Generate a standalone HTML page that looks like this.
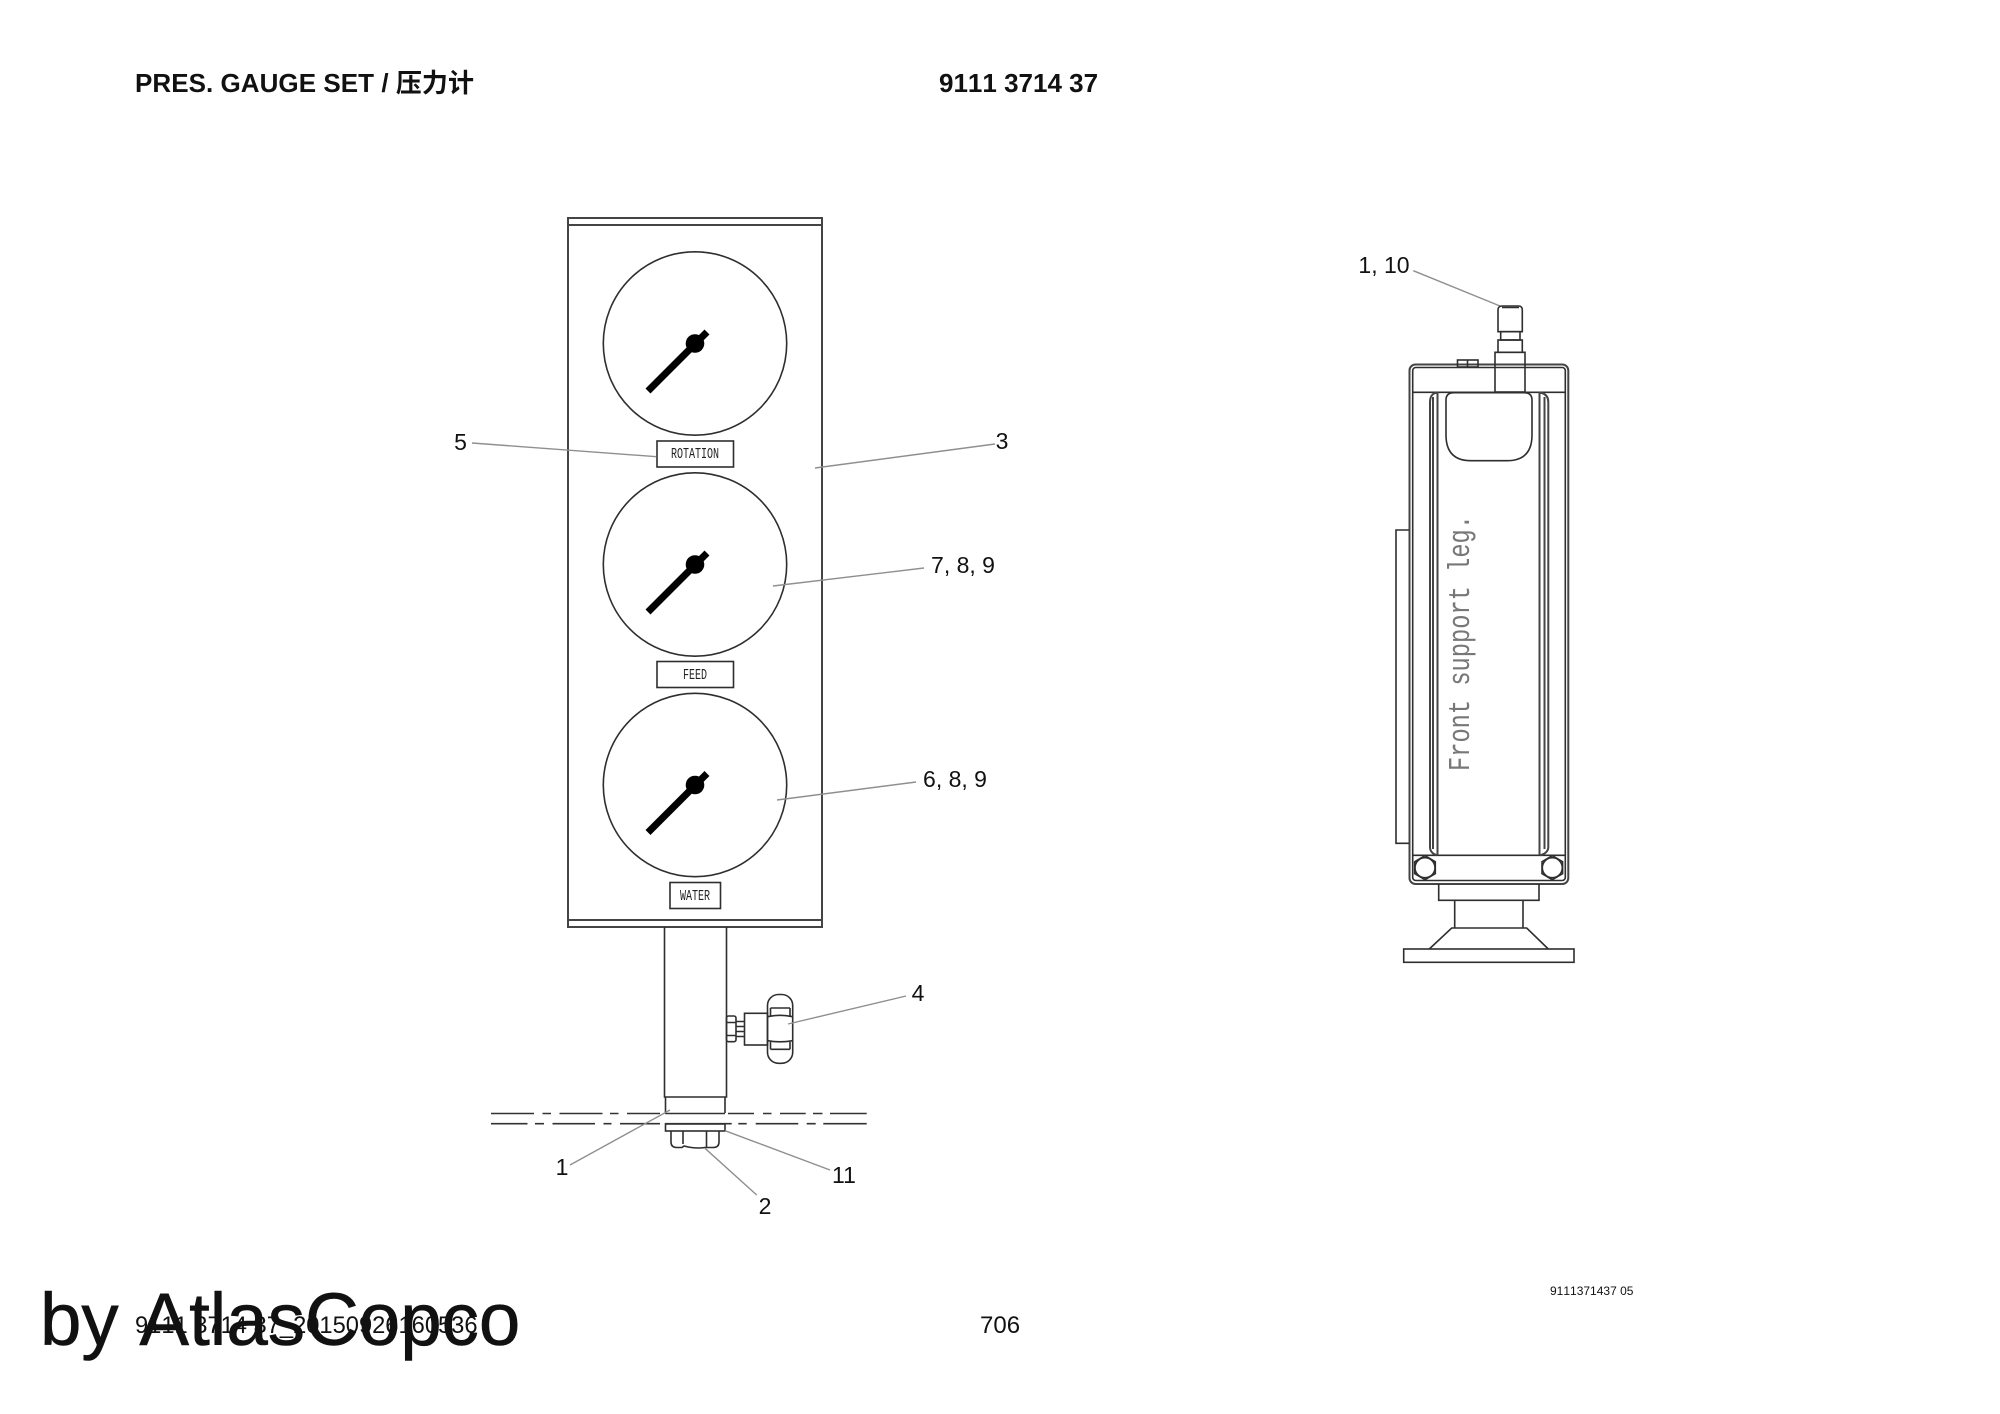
<!DOCTYPE html>
<html><head><meta charset="utf-8"><title>PRES. GAUGE SET</title>
<style>
html,body{margin:0;padding:0;background:#fff;width:2000px;height:1414px;overflow:hidden}
svg{display:block}
text{font-family:"Liberation Sans","Noto Sans CJK SC",sans-serif;fill:#111;font-kerning:none}
.m{font-family:"Liberation Mono",monospace;fill:#222}
.l{stroke:#2e2e2e;stroke-width:1.6;fill:none}
.t{stroke:#444;stroke-width:2;fill:none}
.g{stroke:#8f8f8f;stroke-width:1.4;fill:none}
.n{font-size:23px;text-anchor:middle}
</style></head><body>
<svg width="2000" height="1414" viewBox="0 0 2000 1414" xmlns="http://www.w3.org/2000/svg">
<rect width="2000" height="1414" fill="#fff"/>

<text x="135" y="92" font-size="26" font-weight="700" textLength="339" lengthAdjust="spacing">PRES. GAUGE SET / 压力计</text>
<text x="939" y="92" font-size="26" font-weight="700">9111 3714 37</text>

<!-- panel -->
<rect x="568" y="218" width="254" height="709" class="t"/>
<line x1="568" y1="225" x2="822" y2="225" class="t"/>
<line x1="568" y1="920" x2="822" y2="920" class="t"/>

<!-- gauges -->
<circle cx="695" cy="343.500" r="91.700" class="l"/>
<line x1="648" y1="391" x2="707" y2="332" stroke="#000" stroke-width="7"/>
<circle cx="695" cy="343.500" r="9.300" fill="#000"/>
<circle cx="695" cy="564.500" r="91.700" class="l"/>
<line x1="648" y1="612" x2="707" y2="553" stroke="#000" stroke-width="7"/>
<circle cx="695" cy="564.500" r="9.300" fill="#000"/>
<circle cx="695" cy="785" r="91.700" class="l"/>
<line x1="648" y1="832.500" x2="707" y2="773.500" stroke="#000" stroke-width="7"/>
<circle cx="695" cy="785" r="9.300" fill="#000"/>

<!-- labels -->
<rect x="657" y="441" width="76.500" height="26" class="l" fill="#fff"/>
<text class="m" x="671" y="458" font-size="14.500" textLength="48" lengthAdjust="spacingAndGlyphs">ROTATION</text>
<rect x="657" y="661.500" width="76.500" height="26" class="l"/>
<text class="m" x="683" y="679" font-size="14.500" textLength="24" lengthAdjust="spacingAndGlyphs">FEED</text>
<rect x="670" y="882.500" width="50.500" height="26" class="l"/>
<text class="m" x="680" y="900" font-size="14.500" textLength="30" lengthAdjust="spacingAndGlyphs">WATER</text>

<!-- stem -->
<path d="M664.500 927V1097H726.500V927" class="l"/>
<path d="M665.500 1097V1113M725 1097V1113" class="l"/>
<rect x="665.500" y="1124" width="59.500" height="7" class="l"/>
<path d="M671 1131V1142Q671 1147.500 677 1147.500H682L684 1146Q695 1149 705 1147.500H713Q719 1147.500 719 1142V1131" class="l"/>
<path d="M683 1131V1144M706.500 1131V1147" class="l"/>

<!-- centre lines -->
<g stroke="#333" stroke-width="1.600">
<path d="M491 1113.500H534M542.500 1113.500H551M559.500 1113.500H602.500M610 1113.500H618.500M627 1113.500H660M665 1113.500H725M728 1113.500H754M763 1113.500H771.500M780 1113.500H805.700M813 1113.500H822.500M830 1113.500H866.700"/>
<path d="M491 1123.700H527.500M535 1123.700H544M552.500 1123.700H595M603.500 1123.700H611.500M620 1123.700H660M665 1123.700H725M722.700 1123.700H731.700M738.300 1123.700H746.700M755.700 1123.700H798.300M806.700 1123.700H815.700M823.300 1123.700H866.700"/>
</g>

<!-- valve -->
<rect x="726.500" y="1016" width="9.500" height="25.700" class="l" rx="2"/>
<path d="M726.500 1022.500H736M726.500 1035.500H736" class="l"/>
<path d="M736 1021.500H744.500M736 1026.500H744.500M736 1031.500H744.500M736 1036.500H744.500" class="l"/>
<rect x="744.500" y="1013.300" width="23" height="31.700" class="l"/>
<rect x="767.500" y="994.500" width="25.200" height="68.800" rx="11" class="l"/>
<path d="M770.500 1008H790M767.500 1016.700Q780 1014 792.700 1016.700M767.500 1040.700Q780 1043 792.700 1040.700M770.500 1049.300H790" class="l"/>
<path d="M770.500 1008V1016M790 1008V1016M770.500 1042V1049.300M790 1042V1049.300" class="l"/>

<!-- leaders -->
<g class="g">
<line x1="472" y1="443" x2="656.500" y2="456.700"/>
<line x1="815" y1="468" x2="995" y2="444"/>
<line x1="773" y1="586" x2="924" y2="568"/>
<line x1="777" y1="800" x2="916" y2="782"/>
<line x1="788" y1="1024" x2="906" y2="996"/>
<line x1="670" y1="1110" x2="570" y2="1165"/>
<line x1="725" y1="1130.700" x2="830" y2="1170"/>
<line x1="705" y1="1148.300" x2="756.700" y2="1195"/>
<line x1="1413.300" y1="270.700" x2="1500" y2="306"/>
</g>

<!-- callouts -->
<text class="n" x="460.500" y="450">5</text>
<text class="n" x="1002" y="449">3</text>
<text class="n" x="963" y="573">7, 8, 9</text>
<text class="n" x="955" y="787">6, 8, 9</text>
<text class="n" x="918" y="1001">4</text>
<text class="n" x="562" y="1175">1</text>
<text class="n" x="844" y="1183" style="font-kerning:normal">11</text>
<text class="n" x="765" y="1214">2</text>
<text class="n" x="1384" y="273">1, 10</text>

<!-- right view -->
<rect x="1409.500" y="364.500" width="158.800" height="519.500" rx="6" class="t"/>
<rect x="1412.700" y="367.500" width="152.600" height="513" rx="3" class="l"/>
<path d="M1412.700 392.300H1565.300" class="l"/>
<path d="M1412.700 855.300H1565.300" class="l"/>
<path d="M1437.500 392V855.300M1539.500 392V855.300" class="t"/>
<path d="M1437 393H1435Q1430 395 1430 402V847Q1430 853 1437 855.300M1433 397V849" class="t" stroke-width="1.500"/>
<path d="M1540 393H1542Q1548.300 395 1548.300 402V847Q1548.300 853 1540 855.300M1544.500 397V849" class="t" stroke-width="1.500"/>
<path d="M1446 400Q1446 392.700 1454 392.700H1524Q1532 392.700 1532 400V435Q1532 460.700 1507 460.700H1471Q1446 460.700 1446 435Z" class="l"/>
<rect x="1495" y="352.300" width="30" height="39.700" class="l" fill="#fff"/>
<rect x="1498" y="340" width="24.300" height="12.300" class="l"/>
<rect x="1500.700" y="331.700" width="19.300" height="8.300" class="l"/>
<path d="M1498 331.700V310Q1498 306 1502 306H1518.500Q1522.300 306 1522.300 310V331.700Z" class="l"/>
<path d="M1502 307.500H1519" class="l"/>
<rect x="1457.500" y="360" width="20.500" height="7" class="l"/>
<line x1="1467.500" y1="360" x2="1467.500" y2="367" class="l"/>
<path d="M1409 530H1396V843.300H1409" class="l"/>

<text class="m" transform="translate(1469 771) rotate(-90)" font-size="31" textLength="256" lengthAdjust="spacingAndGlyphs" style="fill:#777">Front support leg.</text>

<polygon points="1425,855.700 1435.300,861.700 1435.300,873.700 1425,879.700 1414.700,873.700 1414.700,861.700" class="l"/>
<circle cx="1425" cy="867.700" r="10" class="l" stroke-width="1"/>
<polygon points="1552.300,855.700 1562.600,861.700 1562.600,873.700 1552.300,879.700 1542,873.700 1542,861.700" class="l"/>
<circle cx="1552.300" cy="867.700" r="10" class="l" stroke-width="1"/>

<path d="M1438.700 884V900.300H1539V884" class="l"/>
<path d="M1454.700 900.300V928M1523 900.300V928" class="l"/>
<path d="M1429.300 949 1451.700 928H1526.700L1548.300 949" class="l"/>
<rect x="1403.700" y="949" width="170.300" height="13.300" class="l"/>

<!-- footer -->
<text x="135" y="1333" font-size="23.700">9111 3714 37_20150926160536</text>
<text x="40" y="1345" font-size="74.500" style="stroke:#111;stroke-width:.6">by AtlasCopco</text>
<text x="980" y="1333" font-size="24">706</text>
<text x="1550" y="1295" font-size="12">9111371437 05</text>
</svg>
</body></html>
